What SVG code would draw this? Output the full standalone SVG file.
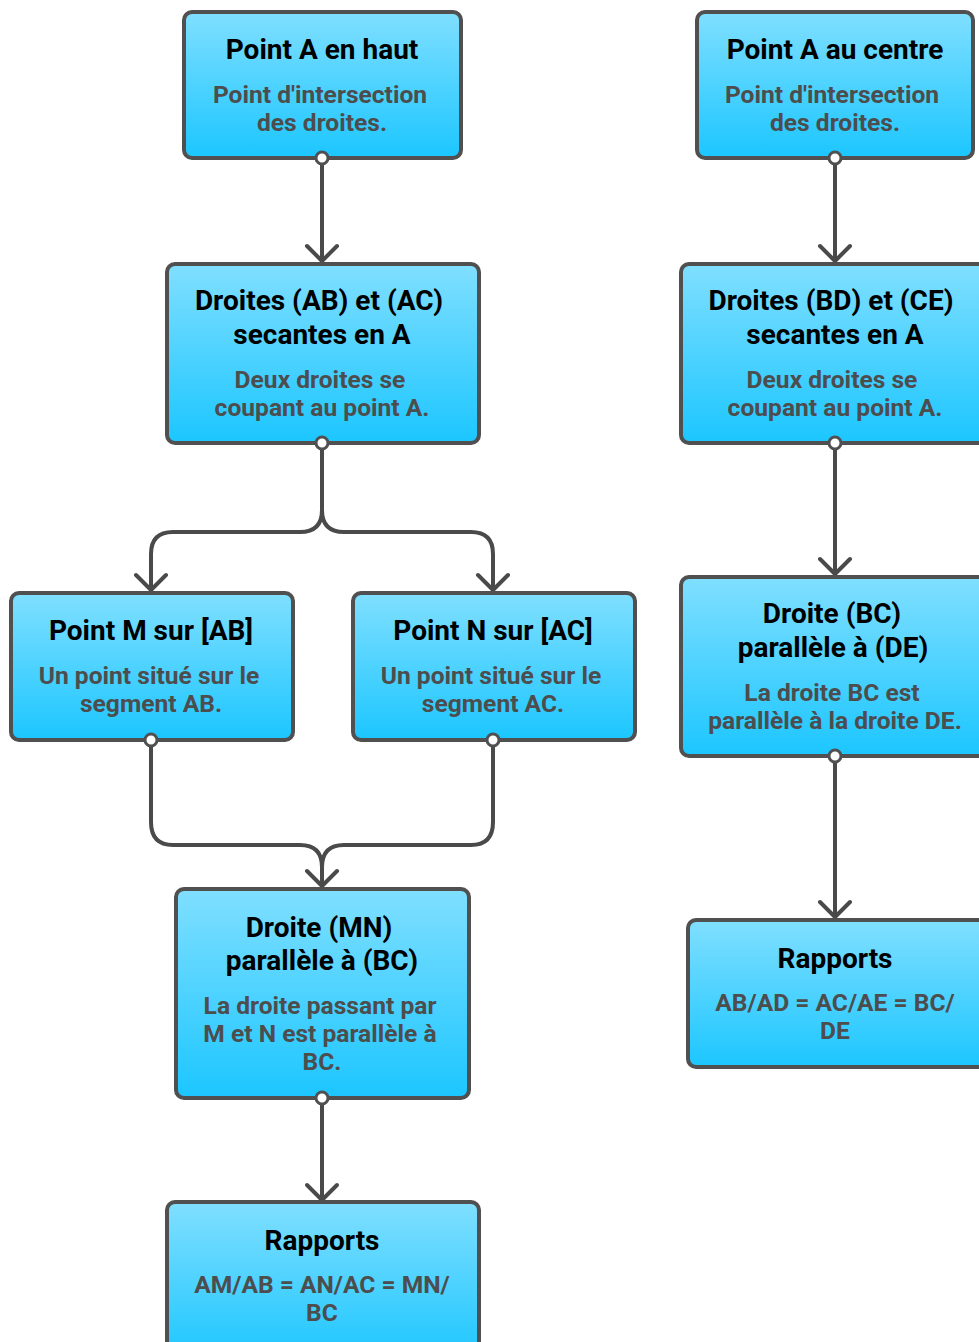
<svg xmlns="http://www.w3.org/2000/svg" width="979" height="1342" viewBox="0 0 979 1342">
<defs>
<linearGradient id="g" x1="0" y1="0" x2="0" y2="1">
<stop offset="0" stop-color="#80dfff"/>
<stop offset="1" stop-color="#1cc6ff"/>
</linearGradient>
<style>
.box{fill:url(#g);stroke:#505050;stroke-width:4}
.t{font-family:Roboto,"Liberation Sans",sans-serif;font-weight:700;font-size:28px;fill:#000;text-anchor:middle}
.s{font-family:Roboto,"Liberation Sans",sans-serif;font-weight:700;font-size:24.6px;fill:#4d4d4d;text-anchor:middle}
.c{fill:none;stroke:#4a4a4a;stroke-width:4;stroke-linecap:round;stroke-linejoin:round}
.p{fill:#fff;stroke:#505050;stroke-width:3}
</style>
</defs>
<rect width="979" height="1342" fill="#fff"/>
<g id="connectors" class="c">
<path d="M322 158V261M307 246L322 261L337 246"/>
<path d="M835 158V261M820 246L835 261L850 246"/>
<path d="M835 443V574M820 559L835 574L850 559"/>
<path d="M835 756V917M820 902L835 917L850 902"/>
<path d="M322 443V510Q322 532 300 532H173Q151 532 151 554V590M136 575L151 590L166 575"/>
<path d="M322 443V510Q322 532 344 532H471Q493 532 493 554V590M478 575L493 590L508 575"/>
<path d="M151 740V822Q151 845 173 845H300Q322 845 322 867V886M307 871L322 886L337 871"/>
<path d="M493 740V822Q493 845 471 845H344Q322 845 322 867V886"/>
<path d="M322 1098V1200M307 1185L322 1200L337 1185"/>
</g>
<g id="n1"><rect class="box" x="184" y="12" width="277" height="146" rx="8"/>
<text class="t" x="322" y="59">Point A en haut</text>
<text class="s" x="320" y="103">Point d'intersection</text><text class="s" x="322" y="131">des droites.</text>
<circle class="p" cx="322" cy="158" r="6"/></g>
<g id="n2"><rect class="box" x="697" y="12" width="276" height="146" rx="8"/>
<text class="t" x="835" y="59">Point A au centre</text>
<text class="s" x="832" y="103">Point d'intersection</text><text class="s" x="835" y="131">des droites.</text>
<circle class="p" cx="835" cy="158" r="6"/></g>
<g id="n3"><rect class="box" x="167" y="264" width="312" height="179" rx="8"/>
<text class="t" x="319" y="310">Droites (AB) et (AC)</text><text class="t" x="322" y="344">secantes en A</text>
<text class="s" x="320" y="388">Deux droites se</text><text class="s" x="322" y="416">coupant au point A.</text>
<circle class="p" cx="322" cy="443" r="6"/></g>
<g id="n4"><rect class="box" x="681" y="264" width="310" height="179" rx="8"/>
<text class="t" x="831" y="310">Droites (BD) et (CE)</text><text class="t" x="835" y="344">secantes en A</text>
<text class="s" x="832" y="388">Deux droites se</text><text class="s" x="835" y="416">coupant au point A.</text>
<circle class="p" cx="835" cy="443" r="6"/></g>
<g id="n5"><rect class="box" x="11" y="593" width="282" height="147" rx="8"/>
<text class="t" x="151" y="640">Point M sur [AB]</text>
<text class="s" x="149" y="684">Un point situé sur le</text><text class="s" x="151" y="712">segment AB.</text>
<circle class="p" cx="151" cy="740" r="6"/></g>
<g id="n6"><rect class="box" x="353" y="593" width="282" height="147" rx="8"/>
<text class="t" x="493" y="640">Point N sur [AC]</text>
<text class="s" x="491" y="684">Un point situé sur le</text><text class="s" x="493" y="712">segment AC.</text>
<circle class="p" cx="493" cy="740" r="6"/></g>
<g id="n7"><rect class="box" x="681" y="577" width="310" height="179" rx="8"/>
<text class="t" x="832" y="623">Droite (BC)</text><text class="t" x="833" y="657">parallèle à (DE)</text>
<text class="s" x="832" y="701">La droite BC est</text><text class="s" x="835" y="729">parallèle à la droite DE.</text>
<circle class="p" cx="835" cy="756" r="6"/></g>
<g id="n8"><rect class="box" x="176" y="889" width="293" height="209" rx="8"/>
<text class="t" x="319" y="937">Droite (MN)</text><text class="t" x="322" y="970">parallèle à (BC)</text>
<text class="s" x="320" y="1014">La droite passant par</text><text class="s" x="320" y="1042">M et N est parallèle à</text><text class="s" x="322" y="1070">BC.</text>
<circle class="p" cx="322" cy="1098" r="6"/></g>
<g id="n9"><rect class="box" x="167" y="1202" width="312" height="160" rx="8"/>
<text class="t" x="322" y="1250">Rapports</text>
<text class="s" x="322" y="1293">AM/AB = AN/AC = MN/</text><text class="s" x="322" y="1321">BC</text></g>
<g id="n10"><rect class="box" x="688" y="920" width="298" height="147" rx="8"/>
<text class="t" x="835" y="968">Rapports</text>
<text class="s" x="835" y="1011">AB/AD = AC/AE = BC/</text><text class="s" x="835" y="1039">DE</text></g>
</svg>
